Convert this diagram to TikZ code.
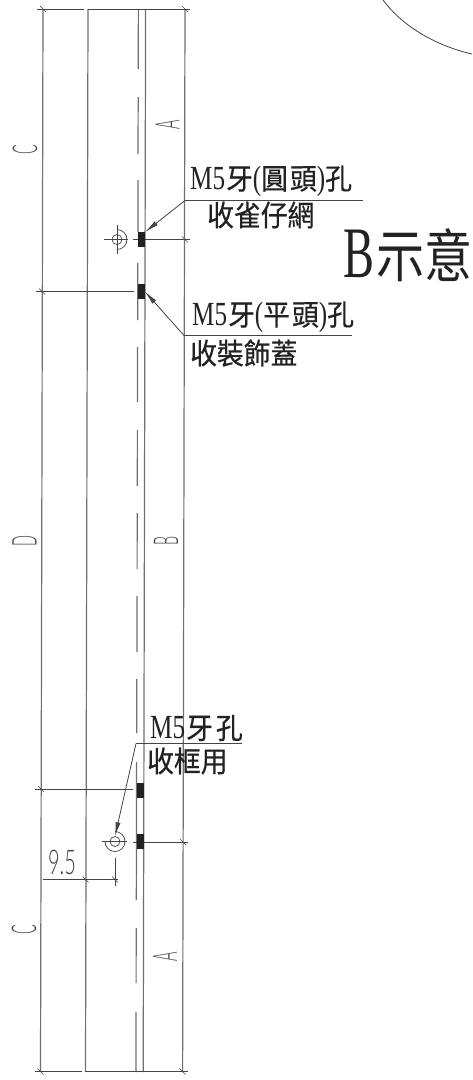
\documentclass[tikz,border=0pt]{standalone}
\usepackage{fontspec}
\usepackage{graphicx}
\setmainfont{Liberation Serif}
\newfontfamily\cjk[FakeBold=0.6]{Noto Sans CJK TC}
\newfontfamily\cjkthin{Noto Sans CJK TC}
\newfontfamily\thinsans[UprightFont=* Light]{Lato}
\usetikzlibrary{arrows.meta}
\definecolor{vline}{HTML}{707070}
\definecolor{dimline}{HTML}{444444}
\definecolor{ink}{HTML}{222222}
\tikzset{
  x=1pt,y=-1pt,
  sheet/.style={draw=vline,line width=1.2pt},
  dimen/.style={draw=dimline,line width=.9pt},
  tick/.style={draw=dimline,line width=.6pt},
  center line/.style={draw=vline,line width=1.2pt},
  block/.style={draw=none,fill=ink,minimum width=7pt,minimum height=15pt,inner sep=0pt,outer sep=0pt},
  leader/.style={draw=dimline,line width=.8pt,-{Latex[length=14pt,width=5pt]}},
  shelf/.style={draw=dimline,line width=.9pt},
  note/.style={inner sep=0pt,text=ink,anchor=west},
  dimtext/.style={inner sep=0pt,text=dimline,rotate=90},
}
\newcommand{\mtxt}[1]{\scalebox{.93}[1.25]{\fontsize{27}{27}\selectfont #1}}
\newcommand{\ctxt}[1]{\scalebox{1.03}[1.12]{\cjk\fontsize{26}{26}\selectfont #1}}
\newcommand{\dtxt}[1]{\scalebox{.8}[1.9]{\thinsans\fontsize{18}{18}\selectfont #1}}
\begin{document}
\begin{tikzpicture}
\useasboundingbox (0,0) rectangle (472,1080);
\fill[white] (0,0) rectangle (472,1080);
% sheet outlines
\draw[sheet] (43,9) -- (40.5,1072);
\draw[sheet] (88,9) -- (85.5,1072);
\draw[sheet] (145.6,9) -- (143.2,1072);
\draw[sheet] (185,9) -- (182.6,1072);
% centre dashes
\draw[center line]
  (138.4,9) -- (138.2,69) (138.2,97) -- (138,154) (138,180) -- (137.9,232)
  (137.8,263) -- (137.7,320) (137.6,347) -- (137.4,402) (137.4,430) -- (137.3,486)
  (137.2,513) -- (137.1,569) (137,596) -- (136.9,652) (136.8,679) -- (136.7,733)
  (136.6,762) -- (136.5,849) (136.5,849) -- (136.3,900) (136.2,928) -- (136.1,983)
  (136,1012) -- (135.9,1072);
% dimension lines
\draw[dimen] (37,9) -- (84,9) (88,9) -- (190,9);
\draw[dimen] (35,1071.5) -- (82,1071.5) (85,1071.5) -- (188,1071.5);
\draw[dimen] (36,291.5) -- (134,291.5);
\draw[dimen] (35,789) -- (133,789);
\draw[dimen] (133,239.5) -- (190,239.5);
\draw[dimen] (133,842) -- (188,842);
\draw[dimen] (43,879.5) -- (118,879.5);
\draw[dimen] (115,858) -- (115,886);
% ticks
\foreach \tx/\ty in {43/9,185/9,185/239.5,42/291.5,41/789,183/842,85.5/879.5,115/879.5,40.5/1071.5,182.5/1071.5}
  \draw[tick] (\tx-3,\ty-3) -- (\tx+3,\ty+3);
% blocks
\node[block] (b1) at (141.6,239.5) {};
\node[block] (b2) at (141.4,291.5) {};
\node[block] (b3) at (140.4,790) {};
\node[block] (b4) at (140.2,841.5) {};
% hole symbols
\node[circle,draw=dimline,line width=.7pt,minimum size=10pt,inner sep=0pt] (h1) at (117,239.5) {};
\draw[dimline,line width=.7pt] (117,229.5) arc (90:-90:10pt);
\draw[dimline,line width=.7pt] (104,239.5) -- (128,239.5) (117,225) -- (117,254);
\node[circle,draw=dimline,line width=.7pt,minimum size=10pt,inner sep=0pt] (h2) at (115,841.5) {};
\draw[dimline,line width=.7pt] (115,831.5) arc (90:-180:10pt);
\draw[dimline,line width=.7pt] (102,841.5) -- (127,841.5);
% leaders
\coordinate (s1) at (185,200.5);
\coordinate (s1e) at (363,200.5);
\coordinate (s2) at (184,335.5);
\coordinate (s2e) at (352,335.5);
\coordinate (s3) at (136,743.5);
\coordinate (s3e) at (242,743.5);
\draw[shelf] (s1) -- (s1e);
\draw[shelf] (s2) -- (s2e);
\draw[shelf] (s3) -- (s3e);
\draw[leader] (s1) -- (b1.north east);
\draw[leader] (s2) -- (b2.east);
\draw[leader] (s3) -- (h2.north);
% notes
\node[note] (t1) at (190,181) {\mtxt{M5}\hspace{1pt}\ctxt{牙}\mtxt{(}\ctxt{圓\hspace{2pt}頭}\mtxt{)}\ctxt{孔}};
\node[note] (t2) at (207,215) {\ctxt{收雀仔網}};
\node[note] (t3) at (192,317) {\mtxt{M5}\hspace{1pt}\ctxt{牙}\mtxt{(}\ctxt{平\hspace{2pt}頭}\mtxt{)}\ctxt{孔}};
\node[note] (t4) at (190,353) {\ctxt{收裝飾蓋}};
\node[note] (t5) at (150,728) {\mtxt{M5}\hspace{1pt}\ctxt{牙\hspace{3pt}孔}};
\node[note] (t6) at (147,761) {\ctxt{收框用}};
\node[note] (title) at (343,255) {\scalebox{.8}[1.25]{\fontsize{58}{58}\selectfont B}\hspace{2pt}\scalebox{1}[1.2]{\cjkthin\fontsize{48}{48}\selectfont 示意}};
% dimension letters
\node[dimtext] (dC1) at (25,150) {\dtxt{C}};
\node[dimtext] (dA1) at (167.5,124.5) {\dtxt{A}};
\node[dimtext] (dD) at (24.5,541) {\dtxt{D}};
\node[dimtext] (dB) at (166,541) {\dtxt{B}};
\node[dimtext] (dC2) at (24,930) {\dtxt{C}};
\node[dimtext] (dA2) at (165,957) {\dtxt{A}};
\node[inner sep=0pt,text=dimline] (d95) at (62,862) {\scalebox{1}[1.7]{\thinsans\fontsize{20}{20}\selectfont 9.5}};
% arc top right
\draw[dimline,line width=.8pt] (383,0) .. controls (403,27) and (437,46) .. (472,54);
\end{tikzpicture}
\end{document}
